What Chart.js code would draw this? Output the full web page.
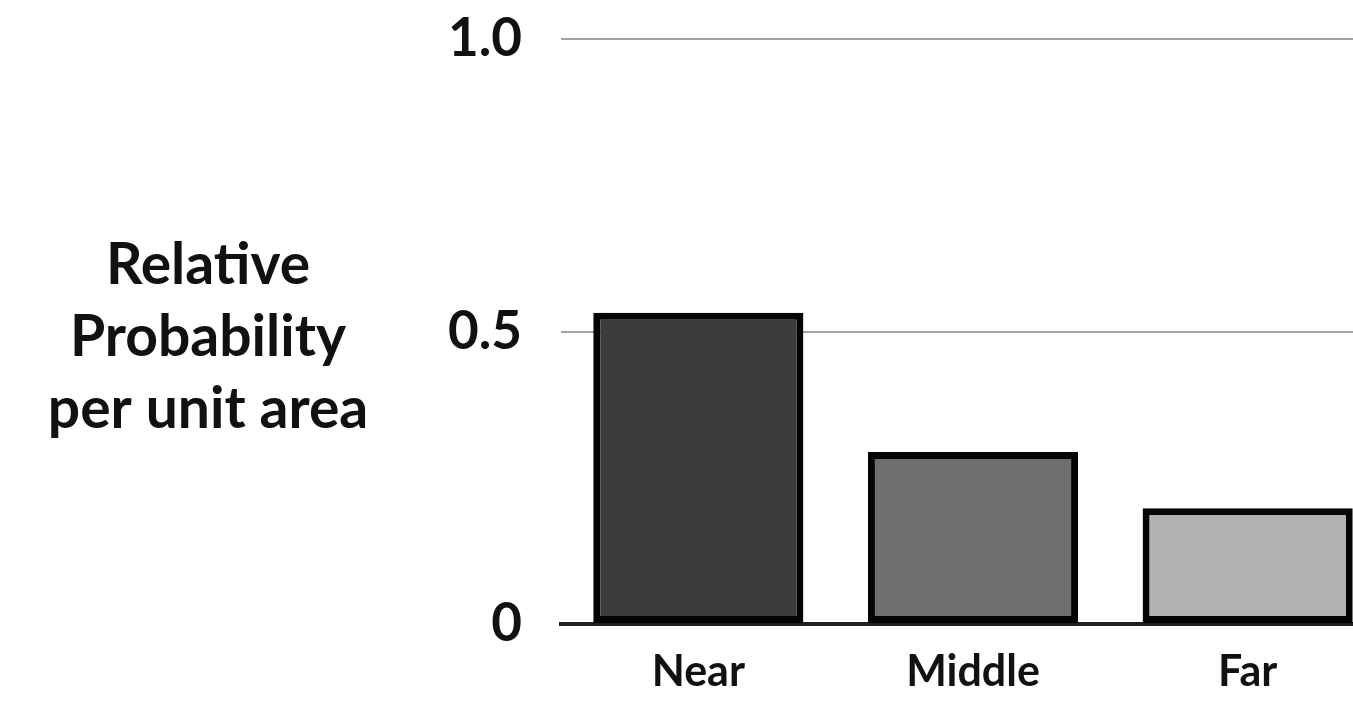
<!DOCTYPE html>
<html>
<head>
<meta charset="utf-8">
<script src="https://cdn.jsdelivr.net/npm/chart.js@4.4.1/dist/chart.umd.min.js"></script>
<style>
  html, body { margin: 0; padding: 0; background: #ffffff; overflow: hidden; }
  #wrap { position: relative; width: 1353px; height: 709px; overflow: hidden; }
  canvas { display: block; }
</style>
</head>
<body>
<div id="wrap"><canvas id="c" width="1385" height="709" style="width:1385px;height:709px"></canvas></div>
<script>
const categories = ['Near', 'Middle', 'Far'];
const probabilities = [0.532, 0.294, 0.198];
const barColors = ['#3c3c3c', '#6f6f71', '#b1b1b1'];
const yTickValues = [0, 0.5, 1.0];
const yTickLabels = ['0', '0.5', '1.0'];
const yTitleLines = ['Relative', 'Probability', 'per unit area'];

const FONT = 'Lato, "Open Sans", sans-serif';

const sideTitle = {
  id: 'sideTitle',
  afterDraw(chart) {
    const ctx = chart.ctx;
    ctx.save();
    ctx.fillStyle = '#111111';
    ctx.font = 'bold 57px ' + FONT;
    ctx.textAlign = 'center';
    ctx.textBaseline = 'alphabetic';
    const baselines = [284, 356, 428];
    yTitleLines.forEach((t, i) => ctx.fillText(t, 208, baselines[i]));
    ctx.restore();
  }
};

new Chart(document.getElementById('c'), {
  type: 'bar',
  data: {
    labels: categories,
    datasets: [{
      data: probabilities,
      backgroundColor: barColors,
      borderColor: '#050505',
      borderWidth: 7,
      borderSkipped: false,
      barPercentage: 0.765,
      categoryPercentage: 1.0
    }]
  },
  options: {
    responsive: false,
    animation: false,
    devicePixelRatio: 1,
    layout: { padding: { top: 39, left: 0, right: 0, bottom: 0 } },
    plugins: { legend: { display: false }, tooltip: { enabled: false }, title: { display: false } },
    scales: {
      x: {
        offset: true,
        grid: { display: false, drawTicks: false },
        border: { display: true, color: '#1e1e1e', width: 4 },
        ticks: { color: '#111111', font: { family: FONT, size: 43, weight: 'bold' }, padding: 22, maxRotation: 0 },
        afterFit(scale) { scale.height = 85; }
      },
      y: {
        min: 0, max: 1,
        afterBuildTicks(scale) { scale.ticks = yTickValues.map(v => ({ value: v })); },
        grid: {
          drawTicks: false,
          color: ctx => (ctx.tick && ctx.tick.value === 0) ? 'rgba(0,0,0,0)' : '#a2a2a2',
          lineWidth: 2
        },
        border: { display: false },
        ticks: {
          color: '#111111',
          font: { family: FONT, size: 53, weight: 'bold' },
          padding: 39,
          callback: (v) => { const i = yTickValues.indexOf(v); return i >= 0 ? yTickLabels[i] : ''; }
        },
        afterFit(scale) { scale.width = 561; scale.paddingTop = 0; scale.paddingBottom = 0; }
      }
    }
  },
  plugins: [sideTitle]
});
</script>
</body>
</html>
